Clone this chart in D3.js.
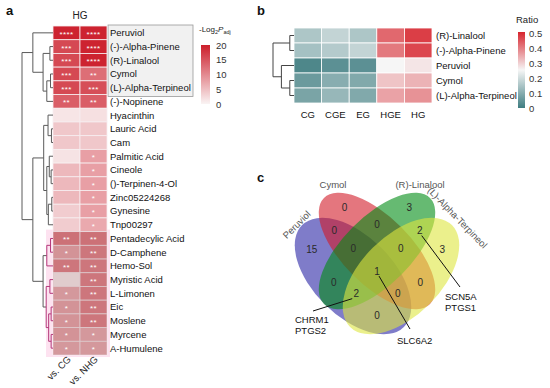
<!DOCTYPE html>
<html>
<head>
<meta charset="utf-8">
<script src="https://cdn.jsdelivr.net/npm/d3@7"></script>
<style>
  body { margin: 0; background: #fff; }
  svg text { font-family: Arial, "Liberation Sans", sans-serif; }
</style>
</head>
<body>
<svg id="fig" width="550" height="388"></svg>
<script>
// ---------- panel a data ----------
var compoundsA = ["Peruviol", "(-)-Alpha-Pinene", "(R)-Linalool", "Cymol", "(L)-Alpha-Terpineol",
  "(-)-Nopinene", "Hyacinthin", "Lauric Acid", "Cam", "Palmitic Acid", "Cineole", "()-Terpinen-4-Ol",
  "Zinc05224268", "Gynesine", "Tnp00297", "Pentadecylic Acid", "D-Camphene", "Hemo-Sol",
  "Myristic Acid", "L-Limonen", "Eic", "Moslene", "Myrcene", "A-Humulene"];
var colsA = ["vs. CG", "vs. NHG"];
var logPvsCG  = [19.5, 16, 16, 16, 16, 14, 1.4, 4.2, 4.2, 1.6, 5.6, 5.6, 5.6, 3.7, 3.7,
  11, 7, 10.4, 0.2, 6.4, 7, 7, 7, 6.4];
var logPvsNHG = [19.5, 19.5, 19.5, 12.5, 15.5, 14, 1.9, 4.2, 4.2, 7.9, 7.9, 7.9, 7.9, 7.9, 7,
  11, 10.4, 10.4, 10.4, 10.4, 10.4, 10.4, 6.4, 6.4];
var starsCG  = ["****", "***", "***", "***", "***", "**", "", "", "", "", "", "", "", "", "",
  "**", "*", "**", "", "*", "*", "*", "*", "*"];
var starsNHG = ["****", "****", "****", "**", "***", "**", "", "", "", "*", "*", "*", "*", "*", "*",
  "**", "**", "**", "**", "**", "**", "**", "*", "*"];
var boxedA = ["Peruviol", "(-)-Alpha-Pinene", "(R)-Linalool", "Cymol", "(L)-Alpha-Terpineol"];
var highlightA = ["Pentadecylic Acid", "D-Camphene", "Hemo-Sol", "Myristic Acid", "L-Limonen",
  "Eic", "Moslene", "Myrcene", "A-Humulene"];
var legendTicksA = [0, 5, 10, 15, 20];
// clustering of the compounds (merge heights, root = 1)
var treeA = {h: 1, c: [
  {h: 0.65, c: ["Peruviol",
    {h: 0.32, c: [{h: 0.1, c: ["(-)-Alpha-Pinene", "(R)-Linalool"]},
      {h: 0.2, c: [{h: 0.08, c: ["Cymol", "(L)-Alpha-Terpineol"]}, "(-)-Nopinene"]}]}]},
  {h: 0.65, c: [
    {h: 0.3, c: [{h: 0.16, c: ["Hyacinthin", {h: 0.05, c: ["Lauric Acid", "Cam"]}]},
      {h: 0.2, c: [{h: 0.12, c: ["Palmitic Acid", {h: 0.06, c: ["Cineole", "()-Terpinen-4-Ol"]}]},
        {h: 0.15, c: [{h: 0.04, c: ["Zinc05224268", "Gynesine"]}, "Tnp00297"]}]}]},
    {h: 0.32, c: [{h: 0.2, c: [{h: 0.08, c: ["Pentadecylic Acid", "D-Camphene"]}, "Hemo-Sol"]},
      {h: 0.22, c: [{h: 0.1, c: ["Myristic Acid", "L-Limonen"]},
        {h: 0.14, c: [{h: 0.06, c: ["Eic", "Moslene"]}, {h: 0.06, c: ["Myrcene", "A-Humulene"]}]}]}]}]}
]};

// ---------- panel b data ----------
var groupsB = ["CG", "CGE", "EG", "HGE", "HG"];
var compoundsB = ["(R)-Linalool", "(-)-Alpha-Pinene", "Peruviol", "Cymol", "(L)-Alpha-Terpineol"];
var ratioCG  = [0.15, 0.14, 0.02, 0.06, 0.08];
var ratioCGE = [0.18, 0.16, 0.04, 0.10, 0.12];
var ratioEG  = [0.15, 0.18, 0.04, 0.09, 0.09];
var ratioHGE = [0.42, 0.40, 0.25, 0.31, 0.35];
var ratioHG  = [0.47, 0.46, 0.27, 0.33, 0.37];
var legendTicksB = [0, 0.1, 0.2, 0.3, 0.4, 0.5];
var treeB = {h: 1, c: [
  {h: 0.2, c: ["(R)-Linalool", "(-)-Alpha-Pinene"]},
  {h: 0.6, c: ["Peruviol", {h: 0.2, c: ["Cymol", "(L)-Alpha-Terpineol"]}]}
]};

// ---------- panel c data ----------
var vennSets = ["Peruviol", "Cymol", "(R)-Linalool", "(L)-Alpha-Terpineol"];
// region key = membership in [Peruviol, Cymol, Linalool, Terpineol]
var vennRegions = ["1000", "0100", "0010", "0001", "1100", "0110", "0011", "1010", "0101",
  "1001", "1110", "0111", "1011", "1101", "1111"];
var vennCounts  = [15, 0, 3, 3, 0, 0, 2, 0, 0, 0, 0, 0, 2, 0, 1];
var vennGenes = [
  {region: "1011", genes: ["CHRM1", "PTGS2"]},
  {region: "1111", genes: ["SLC6A2"]},
  {region: "0011", genes: ["SCN5A", "PTGS1"]}
];

// ---------- drawing ----------
var svg = d3.select("#fig");

function panelLabel(t, x, y) {
  svg.append("text").attr("x", x).attr("y", y).attr("font-size", 13)
    .attr("font-weight", "bold").attr("fill", "#111").text(t);
}
panelLabel("a", 6, 15);
panelLabel("b", 257, 15);
panelLabel("c", 257, 182);

// ===== panel a =====
var xA = d3.scaleBand().domain(colsA).range([53, 107]);
var yA = d3.scaleBand().domain(compoundsA).range([26, 355]);
var colA = d3.scaleLinear().domain([0, 20]).range(["#faf4f4", "#cc1e2b"]);
var hA = d3.scaleLinear().domain([0, 1]).range([53, 22]);

// highlight of lower cluster
svg.append("rect")
  .attr("x", 46).attr("y", yA(highlightA[0]) - 2)
  .attr("width", 64).attr("height", yA(highlightA[highlightA.length - 1]) + yA.bandwidth() - yA(highlightA[0]) + 4)
  .attr("fill", "#fde2f0");

// gray box around labels
svg.append("rect")
  .attr("x", 108).attr("y", yA(boxedA[0]) - 1)
  .attr("width", 85).attr("height", yA.bandwidth() * boxedA.length + 3)
  .attr("fill", "#f1f1f1").attr("stroke", "#9a9a9a").attr("stroke-width", 0.8);

var cellsA = [];
compoundsA.forEach(function(c, i) {
  cellsA.push({row: c, col: colsA[0], v: logPvsCG[i], s: starsCG[i]});
  cellsA.push({row: c, col: colsA[1], v: logPvsNHG[i], s: starsNHG[i]});
});
var gA = svg.append("g");
gA.selectAll("rect.cell").data(cellsA).enter().append("rect")
  .attr("class", "cell")
  .attr("x", function(d) { return xA(d.col); })
  .attr("y", function(d) { return yA(d.row); })
  .attr("width", xA.bandwidth()).attr("height", yA.bandwidth())
  .attr("fill", function(d) { return colA(d.v); })
  .attr("stroke", "#f7eef0").attr("stroke-width", 0.8);
// darker, muted tone of the highlighted cluster
gA.append("rect")
  .attr("x", 53).attr("y", yA(highlightA[0]))
  .attr("width", 54).attr("height", yA.bandwidth() * highlightA.length)
  .attr("fill", "#82464b").attr("fill-opacity", 0.22);
gA.selectAll("text.star").data(cellsA).enter().append("text")
  .attr("class", "star")
  .attr("x", function(d) { return xA(d.col) + xA.bandwidth() / 2; })
  .attr("y", function(d) { return yA(d.row) + yA.bandwidth() / 2 + 4; })
  .attr("text-anchor", "middle").attr("font-size", 8).attr("letter-spacing", 0.4)
  .attr("fill", "#fff").text(function(d) { return d.s; });

svg.append("text").attr("x", 80).attr("y", 19).attr("text-anchor", "middle")
  .attr("font-size", 10).attr("fill", "#222").text("HG");

svg.append("g").selectAll("text").data(compoundsA).enter().append("text")
  .attr("x", 110).attr("y", function(d) { return yA(d) + yA.bandwidth() / 2 + 3.4; })
  .attr("font-size", 9.5).attr("fill", "#111").text(function(d) { return d; });

svg.append("g").selectAll("text").data(colsA).enter().append("text")
  .attr("transform", function(d) {
    return "translate(" + (xA(d) + xA.bandwidth() / 2 + 5) + ",360) rotate(-45)";
  })
  .attr("text-anchor", "end").attr("font-size", 9.5).attr("fill", "#222")
  .text(function(d) { return d; });

function drawTree(tree, xs, yOf, leafX, colorFn) {
  var root = d3.hierarchy(tree, function(d) { return typeof d === "string" ? null : d.c; });
  root.eachAfter(function(n) {
    if (!n.children) { n.py = yOf(n.data); n.px = leafX; }
    else {
      n.py = (n.children[0].py + n.children[n.children.length - 1].py) / 2;
      n.px = xs(n.data.h);
    }
  });
  var g = svg.append("g").attr("fill", "none").attr("stroke-width", 1);
  root.each(function(n) {
    if (!n.children) return;
    var col = colorFn(n);
    g.append("line").attr("x1", n.px).attr("x2", n.px)
      .attr("y1", n.children[0].py).attr("y2", n.children[n.children.length - 1].py)
      .attr("stroke", col);
    n.children.forEach(function(ch) {
      g.append("line").attr("x1", n.px).attr("x2", ch.px)
        .attr("y1", ch.py).attr("y2", ch.py).attr("stroke", col);
    });
  });
}
drawTree(treeA, hA, function(d) { return yA(d) + yA.bandwidth() / 2; }, 53, function(n) {
  var lv = n.leaves().map(function(l) { return l.data; });
  var inHl = lv.every(function(l) { return highlightA.indexOf(l) >= 0; });
  return (inHl && n.data.h < 0.3) ? "#b4387a" : "#5a5a5a";
});

// legend a
var defs = svg.append("defs");
var gradA = defs.append("linearGradient").attr("id", "gradA")
  .attr("x1", 0).attr("y1", 1).attr("x2", 0).attr("y2", 0);
gradA.append("stop").attr("offset", 0).attr("stop-color", colA(0));
gradA.append("stop").attr("offset", 1).attr("stop-color", colA(20));
var yLegA = d3.scaleLinear().domain([0, 20]).range([104, 45]);
svg.append("rect").attr("x", 201).attr("y", yLegA(20)).attr("width", 9)
  .attr("height", yLegA(0) - yLegA(20)).attr("fill", "url(#gradA)");
svg.append("g").selectAll("text").data(legendTicksA).enter().append("text")
  .attr("x", 216).attr("y", function(d) { return yLegA(d) + 3.5; })
  .attr("font-size", 9.5).attr("fill", "#333").text(function(d) { return d; });
var tA = svg.append("text").attr("x", 199).attr("y", 32).attr("font-size", 8).attr("fill", "#222");
tA.append("tspan").text("-Log");
tA.append("tspan").attr("font-size", 5.5).attr("dy", 2).text("2");
tA.append("tspan").attr("dy", -2).attr("font-style", "italic").text("P");
tA.append("tspan").attr("font-size", 5.5).attr("dy", 2).text("adj");

// ===== panel b =====
var xB = d3.scaleBand().domain(groupsB).range([294, 432]);
var yB = d3.scaleBand().domain(compoundsB).range([28, 103]);
var colB = d3.scaleLinear().domain([0, 0.25, 0.5]).range(["#3f7d81", "#f6f6f6", "#d7252e"]);
var hB = d3.scaleLinear().domain([0, 1]).range([294, 273]);
var ratioCols = [ratioCG, ratioCGE, ratioEG, ratioHGE, ratioHG];
var cellsB = [];
compoundsB.forEach(function(c, i) {
  groupsB.forEach(function(g, j) { cellsB.push({row: c, col: g, v: ratioCols[j][i]}); });
});
svg.append("g").selectAll("rect").data(cellsB).enter().append("rect")
  .attr("x", function(d) { return xB(d.col); })
  .attr("y", function(d) { return yB(d.row); })
  .attr("width", xB.bandwidth()).attr("height", yB.bandwidth())
  .attr("fill", function(d) { return colB(d.v); })
  .attr("stroke", "#ffffff").attr("stroke-width", 0.8);
svg.append("g").selectAll("text").data(compoundsB).enter().append("text")
  .attr("x", 436).attr("y", function(d) { return yB(d) + yB.bandwidth() / 2 + 3.4; })
  .attr("font-size", 9.5).attr("fill", "#111").text(function(d) { return d; });
svg.append("g").selectAll("text").data(groupsB).enter().append("text")
  .attr("x", function(d) { return xB(d) + xB.bandwidth() / 2; }).attr("y", 118)
  .attr("text-anchor", "middle").attr("font-size", 9.5).attr("fill", "#111")
  .text(function(d) { return d; });
drawTree(treeB, hB, function(d) { return yB(d) + yB.bandwidth() / 2; }, 294,
  function() { return "#444"; });

// legend b
var gradB = defs.append("linearGradient").attr("id", "gradB")
  .attr("x1", 0).attr("y1", 1).attr("x2", 0).attr("y2", 0);
[0, 0.25, 0.5].forEach(function(v) {
  gradB.append("stop").attr("offset", v / 0.5).attr("stop-color", colB(v));
});
var yLegB = d3.scaleLinear().domain([0, 0.5]).range([108, 33]);
svg.append("rect").attr("x", 518).attr("y", yLegB(0.5) - 1).attr("width", 7)
  .attr("height", yLegB(0) - yLegB(0.5) + 1).attr("fill", "url(#gradB)");
svg.append("g").selectAll("text").data(legendTicksB).enter().append("text")
  .attr("x", 529).attr("y", function(d) { return yLegB(d) + 3.5; })
  .attr("font-size", 9.5).attr("fill", "#333").text(function(d) { return d; });
svg.append("text").attr("x", 516).attr("y", 23).attr("font-size", 9.5)
  .attr("fill", "#222").text("Ratio");

// ===== panel c =====
var vx = d3.scaleLinear().domain([-1, 1]).range([277, 477]);
var vy = d3.scaleLinear().domain([-1, 1]).range([150, 350]);
var vennShapes = [
  {cx: -0.24, cy: 0.26, a: 0.72, b: 0.40, rot: 45,  fill: "#2a25a5"},
  {cx: 0,     cy: 0.01, a: 0.75, b: 0.34, rot: 45,  fill: "#d21a28"},
  {cx: 0,     cy: 0.01, a: 0.75, b: 0.34, rot: -45, fill: "#008c14"},
  {cx: 0.24,  cy: 0.26, a: 0.72, b: 0.40, rot: -45, fill: "#dee63f"}
];
var k = vx(1) - vx(0);
svg.append("g").selectAll("ellipse").data(vennShapes).enter().append("ellipse")
  .attr("transform", function(d) {
    return "translate(" + vx(d.cx) + "," + vy(d.cy) + ") rotate(" + d.rot + ")";
  })
  .attr("rx", function(d) { return d.a * k; })
  .attr("ry", function(d) { return d.b * k; })
  .attr("fill", function(d) { return d.fill; })
  .attr("fill-opacity", 0.6);

function inside(s, x, y) {
  var dx = x - vx(s.cx), dy = y - vy(s.cy);
  var t = s.rot * Math.PI / 180;
  var u = dx * Math.cos(t) + dy * Math.sin(t);
  var v = -dx * Math.sin(t) + dy * Math.cos(t);
  return (u * u) / Math.pow(s.a * k, 2) + (v * v) / Math.pow(s.b * k, 2) <= 1;
}
// region label position: centre of the "deepest" part of each region
// (chamfer distance transform on a pixel grid)
var gx0 = 270, gy0 = 170, gw = 216, gh = 181;
var keys = new Array(gw * gh), dist = new Float32Array(gw * gh);
for (var j = 0; j < gh; j++) {
  for (var i = 0; i < gw; i++) {
    keys[j * gw + i] = vennShapes.map(function(s) { return inside(s, gx0 + i, gy0 + j) ? "1" : "0"; }).join("");
  }
}
for (var j = 0; j < gh; j++) {
  for (var i = 0; i < gw; i++) {
    var id = j * gw + i, kk = keys[id];
    var edge = i === 0 || j === 0 || i === gw - 1 || j === gh - 1 ||
      keys[id - 1] !== kk || keys[id + 1] !== kk || keys[id - gw] !== kk || keys[id + gw] !== kk;
    dist[id] = edge ? 0 : 1e9;
  }
}
for (var j = 1; j < gh; j++) {
  for (var i = 1; i < gw - 1; i++) {
    var id = j * gw + i;
    dist[id] = Math.min(dist[id], dist[id - 1] + 1, dist[id - gw] + 1,
      dist[id - gw - 1] + 1.414, dist[id - gw + 1] + 1.414);
  }
}
for (var j = gh - 2; j >= 0; j--) {
  for (var i = gw - 2; i >= 1; i--) {
    var id = j * gw + i;
    dist[id] = Math.min(dist[id], dist[id + 1] + 1, dist[id + gw] + 1,
      dist[id + gw + 1] + 1.414, dist[id + gw - 1] + 1.414);
  }
}
var maxD = {};
keys.forEach(function(kk, id) { if (!maxD[kk] || dist[id] > maxD[kk]) maxD[kk] = dist[id]; });
var acc = {};
keys.forEach(function(kk, id) {
  if (dist[id] < 0.75 * maxD[kk]) return;
  if (!acc[kk]) acc[kk] = {sx: 0, sy: 0, n: 0};
  acc[kk].sx += gx0 + id % gw; acc[kk].sy += gy0 + Math.floor(id / gw); acc[kk].n += 1;
});
var regionPos = {};
vennRegions.forEach(function(r) {
  var a = acc[r];
  regionPos[r] = a ? [a.sx / a.n, a.sy / a.n] : [0, 0];
});
svg.append("g").selectAll("text").data(vennRegions).enter().append("text")
  .attr("x", function(d) { return regionPos[d][0]; })
  .attr("y", function(d) { return regionPos[d][1] + 3.5; })
  .attr("text-anchor", "middle").attr("font-size", 10).attr("fill", "#2a2a2a")
  .text(function(d, i) { return vennCounts[i]; });

// set names
var setLabelPos = [
  {x: 299, y: 227, rot: -45, anchor: "middle"},
  {x: 333, y: 188, rot: 0, anchor: "middle"},
  {x: 420, y: 188, rot: 0, anchor: "middle"},
  {x: 427, y: 191, rot: 46, anchor: "start"}
];
svg.append("g").selectAll("text").data(vennSets).enter().append("text")
  .attr("transform", function(d, i) {
    var p = setLabelPos[i];
    return "translate(" + p.x + "," + p.y + ") rotate(" + p.rot + ")";
  })
  .attr("text-anchor", function(d, i) { return setLabelPos[i].anchor; })
  .attr("font-size", 9.5).attr("fill", "#555").text(function(d) { return d; });

// gene annotations
var geneAnchor = {"1011": [313, 311, 295, 323], "1111": [410, 329, 397, 344], "0011": [460, 287, 445, 300]};
vennGenes.forEach(function(g) {
  var p = regionPos[g.region], a = geneAnchor[g.region];
  svg.append("line").attr("x1", p[0] + (a[0] < p[0] ? -4 : 2)).attr("y1", p[1] + 5)
    .attr("x2", a[0]).attr("y2", a[1]).attr("stroke", "#111").attr("stroke-width", 1);
  var t = svg.append("text").attr("x", a[2]).attr("y", a[3]).attr("font-size", 9.5).attr("fill", "#111");
  g.genes.forEach(function(n, i) {
    t.append("tspan").attr("x", a[2]).attr("dy", i === 0 ? 0 : 11).text(n);
  });
});
</script>
</body>
</html>
